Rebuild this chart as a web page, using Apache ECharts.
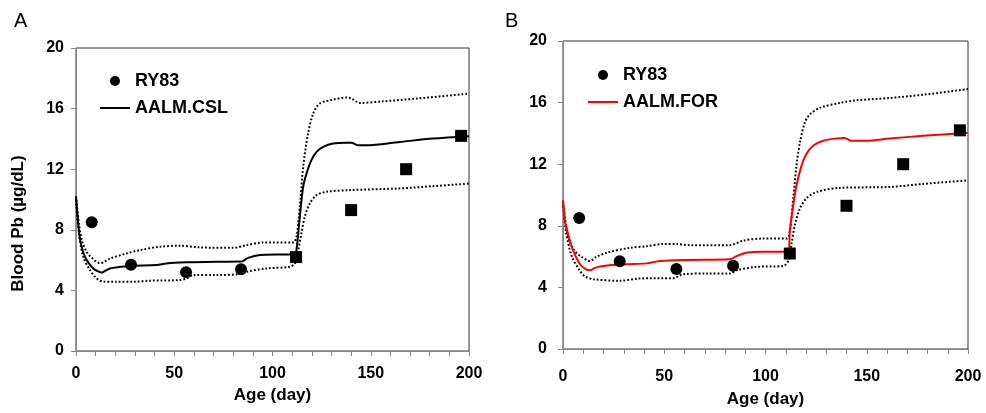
<!DOCTYPE html>
<html>
<head>
<meta charset="utf-8">
<script src="https://cdn.jsdelivr.net/npm/echarts@6/dist/echarts.min.js"></script>
<style>
  html, body { margin: 0; padding: 0; background: #fff; }
  #main { width: 986px; height: 413px; }
</style>
</head>
<body>
<div id="main"></div>
<script>
// observed RY83 points
const circleDays = [8, 28, 56, 84];
const circleVals = [8.5, 5.7, 5.2, 5.4];
const squareDays = [112, 140, 168, 196];
const squareVals = [6.2, 9.3, 12.0, 14.2];

// panel A model: AALM.CSL (mean, upper, lower)
const cslMid = [[0,10.2],[1,8.6],[2,7.4],[3.5,6.6],[5.4,6.0],[8.8,5.45],[11,5.28],[13,5.18],[15,5.3],[17.3,5.45],[22,5.55],[29,5.63],[41,5.67],[46,5.78],[56,5.85],[71.5,5.89],[84,5.9],[87.6,6.15],[93.6,6.33],[105,6.37],[111.4,6.38],[112.2,6.66],[113.9,8.86],[115.6,10.84],[117.3,11.71],[119.8,12.6],[122.4,13.14],[125.8,13.47],[130.8,13.69],[137.6,13.74],[140.2,13.74],[143.6,13.58],[147.8,13.58],[164.7,13.8],[181.7,14.02],[200,14.18]];
const cslUpper = [[0,10.2],[1.5,8.4],[3,7.3],[5.4,6.55],[8,6.15],[12.2,5.8],[14,5.85],[17.3,6.1],[25.8,6.44],[32.5,6.66],[42.7,6.88],[52.9,6.95],[63,6.84],[80,6.81],[86.8,6.99],[95.3,7.16],[110.5,7.16],[112.2,7.54],[113.9,9.52],[115.6,12.15],[118.1,14.35],[120.7,15.67],[124,16.33],[130.8,16.59],[137.6,16.73],[140.2,16.66],[144.4,16.37],[156.3,16.48],[173.2,16.66],[200,16.99]];
const cslLower = [[0,10.0],[1.5,7.8],[3.7,6.2],[7.1,5.34],[10,4.85],[12.2,4.65],[14,4.58],[20,4.57],[29.2,4.57],[37.6,4.64],[52.9,4.68],[56.3,4.79],[59.7,5.01],[71.5,5.01],[83.4,5.08],[86.8,5.23],[96.9,5.45],[108.8,5.56],[111.4,5.78],[113.1,6.66],[114.7,7.76],[116.4,8.86],[119,9.74],[122.4,10.29],[127.5,10.51],[139.3,10.62],[164.7,10.73],[181.7,10.88],[200,11.05]];

// panel B model: AALM.FOR (mean, upper, lower)
const forMid = [[0,9.67],[1,8.3],[2.6,7.42],[5.1,6.35],[8.4,5.5],[11,5.2],[13.3,5.11],[15.5,5.25],[18.3,5.36],[24,5.45],[31,5.5],[41.3,5.56],[47.9,5.71],[62.7,5.78],[82.4,5.82],[85.7,6.03],[90.6,6.25],[98.8,6.31],[111.2,6.31],[112,7.64],[113.7,9.35],[115.3,10.63],[117.8,11.91],[120.2,12.66],[123.5,13.2],[128.5,13.52],[135,13.67],[139.1,13.7],[142.4,13.52],[149.8,13.52],[161.3,13.67],[177.8,13.84],[200,14.05]];
const forUpper = [[0,9.6],[1.5,8.0],[3,7.1],[5.5,6.4],[9,6.0],[13.3,5.71],[16,5.95],[21.5,6.25],[33,6.57],[41.3,6.67],[49.5,6.82],[56.1,6.82],[62.7,6.74],[82.4,6.74],[89,7.04],[98.8,7.17],[110.4,7.17],[112,7.64],[113.7,9.78],[115.3,11.91],[117,13.41],[119.4,14.7],[121.9,15.23],[126.8,15.66],[136.7,15.98],[144.9,16.15],[161.3,16.3],[177.8,16.51],[200,16.88]];
const forLower = [[0,9.5],[1.5,7.6],[4.3,6.03],[8.4,5.07],[11,4.7],[15,4.53],[28.1,4.43],[38,4.58],[54.4,4.6],[59.4,4.86],[70.9,4.9],[82.4,4.9],[85.7,5.11],[95.6,5.33],[108.7,5.39],[111.2,5.71],[112.8,6.78],[114.5,8.06],[117,9.13],[120.2,9.78],[125.2,10.2],[136.7,10.46],[161.3,10.52],[177.8,10.72],[200,10.95]];

const FONT = 'Liberation Sans';
const zip = (a, b) => a.map((v, i) => [v, b[i]]);

function xAx(idx, margin, gap) {
  return {
    type: 'value', gridIndex: idx, min: 0, max: 200, interval: 10,
    name: 'Age (day)', nameLocation: 'middle', nameGap: gap,
    nameTextStyle: { fontFamily: FONT, fontWeight: 'bold', fontSize: 17, color: '#000' },
    axisLine: { lineStyle: { color: '#888', width: 1 } },
    axisTick: { show: true, inside: false, length: 5, lineStyle: { color: '#888' } },
    axisLabel: {
      margin: margin, fontFamily: FONT, fontWeight: 'bold', fontSize: 16, color: '#000',
      formatter: v => (v % 50 === 0 ? String(v) : '')
    },
    splitLine: { show: false }
  };
}
function yAx(idx, margin, withName) {
  return {
    type: 'value', gridIndex: idx, min: 0, max: 20, interval: 4,
    name: withName ? 'Blood Pb (µg/dL)' : '', nameLocation: 'middle', nameGap: 49,
    nameTextStyle: { fontFamily: FONT, fontWeight: 'bold', fontSize: 17, color: '#000', padding: [0, 48, 0, 0] },
    axisLine: { show: true, lineStyle: { color: '#888', width: 1 } },
    axisTick: { show: true, inside: false, length: 5, lineStyle: { color: '#888' } },
    axisLabel: { margin: margin, fontFamily: FONT, fontWeight: 'bold', fontSize: 16, color: '#000' },
    splitLine: { show: false }
  };
}
function band(name, data, idx) {
  return {
    name: name, type: 'line', xAxisIndex: idx, yAxisIndex: idx, data: data,
    symbol: 'none', smooth: 0.3, silent: true,
    lineStyle: { color: '#000', width: 2, type: [1.8, 2] }, z: 2
  };
}
function mid(name, data, idx, color) {
  return {
    name: name, type: 'line', xAxisIndex: idx, yAxisIndex: idx, data: data,
    symbol: 'none', showSymbol: false, smooth: 0.3,
    itemStyle: { color: color },
    lineStyle: { color: color, width: 2 }, z: 3
  };
}
function obs(idx) {
  return [
    { name: 'RY83', type: 'scatter', xAxisIndex: idx, yAxisIndex: idx, symbol: 'circle', symbolSize: 12,
      itemStyle: { color: '#000', opacity: 1 }, data: zip(circleDays, circleVals), z: 5 },
    { name: 'RY83 sq', type: 'scatter', xAxisIndex: idx, yAxisIndex: idx, symbol: 'rect', symbolSize: 12,
      itemStyle: { color: '#000', opacity: 1 }, data: zip(squareDays, squareVals), z: 5 }
  ];
}
function leg(left, top, names) {
  return {
    orient: 'vertical', left: left, top: top, itemWidth: 30, itemHeight: 10, itemGap: 9,
    selectedMode: false, symbolKeepAspect: true,
    textStyle: { fontFamily: FONT, fontWeight: 'bold', fontSize: 18, color: '#000' },
    data: [
      { name: names[0], icon: 'circle', itemStyle: { opacity: 1 } },
      { name: names[1], icon: 'path://M0,0 H30 V2 H0 Z' }
    ]
  };
}

const chart = echarts.init(document.getElementById('main'));
chart.setOption({
  backgroundColor: '#fff',
  animation: false,
  title: [
    { text: 'A', left: 9, top: 6, textStyle: { fontFamily: FONT, fontWeight: 'normal', fontSize: 20, color: '#000' } },
    { text: 'B', left: 500, top: 6, textStyle: { fontFamily: FONT, fontWeight: 'normal', fontSize: 20, color: '#000' } }
  ],
  grid: [
    { left: 76, right: 517, top: 48, bottom: 62, show: true, borderColor: '#333', borderWidth: 1, backgroundColor: 'transparent' },
    { left: 563, right: 18, top: 41, bottom: 61, show: true, borderColor: '#333', borderWidth: 1, backgroundColor: 'transparent' }
  ],
  legend: [
    leg(95, 67, ['RY83', 'AALM.CSL']),
    leg(583, 61, ['RY83', 'AALM.FOR'])
  ],
  xAxis: [xAx(0, 15, 33), xAx(1, 20, 42)],
  yAxis: [yAx(0, 12, true), yAx(1, 16, false)],
  series: [
    band('A upper', cslUpper, 0),
    band('A lower', cslLower, 0),
    mid('AALM.CSL', cslMid, 0, '#000'),
    ...obs(0),
    band('B upper', forUpper, 1),
    band('B lower', forLower, 1),
    mid('AALM.FOR', forMid, 1, '#ff0000'),
    ...obs(1)
  ]
});
</script>
</body>
</html>
